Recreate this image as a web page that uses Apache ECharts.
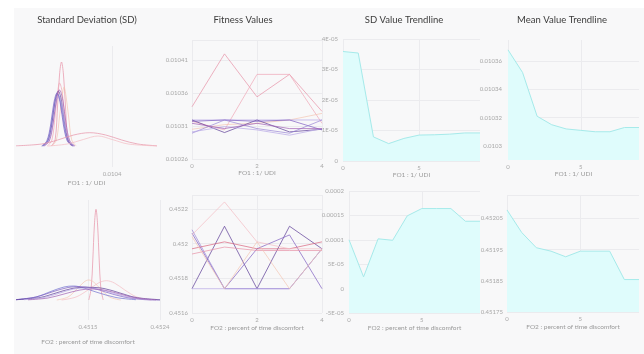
<!DOCTYPE html>
<html>
<head>
<meta charset="utf-8">
<script src="https://cdn.jsdelivr.net/npm/echarts@6/dist/echarts.min.js"></script>
<style>
html,body{margin:0;padding:0;background:#fff;}
#chart{width:644px;height:354px;}
</style>
</head>
<body>
<div id="chart"></div>
<script>
// ---------- panel titles and axis names ----------
const panelTitles = ['Standard Deviation (SD)', 'Fitness Values', 'SD Value Trendline', 'Mean Value Trendline'];
const objectiveNames = ['FO1 : 1/ UDI', 'FO2 : percent of time discomfort'];

// ---------- x categories ----------
const runIndex = ['0', '1', '2', '3', '4'];
const genIndex = ['0', '1', '2', '3', '4', '5', '6', '7', '8', '9'];

// ---------- series colours (dark purple -> light pink) ----------
const palette = ['#5b3a96', '#7e5cc0', '#9a86d6', '#b7a6e6', '#7170cf', '#a05fb4', '#e791a6', '#efa7b7', '#f3bcc3', '#f4c6b4', '#d9647e'];

// ---------- density curves of FO1 (value, relative density) ----------
const sdTop = [
  { c: 6, d: [[0.010305,0],[0.010311,0.06],[0.010315,0.42],[0.010318,0.72],[0.010321,0.84],[0.010324,0.72],[0.010327,0.42],[0.010331,0.06],[0.010337,0]] },
  { c: 7, d: [[0.010299,0],[0.010306,0.06],[0.010311,0.30],[0.010315,0.54],[0.010318,0.63],[0.010322,0.54],[0.010326,0.30],[0.010331,0.06],[0.010338,0]] },
  { c: 9, d: [[0.010306,0],[0.010313,0.06],[0.010318,0.30],[0.010322,0.50],[0.010325,0.59],[0.010328,0.50],[0.010332,0.30],[0.010337,0.06],[0.010344,0]] },
  { c: 0, d: [[0.010292,0],[0.010300,0.05],[0.010306,0.22],[0.010311,0.45],[0.010316,0.55],[0.010321,0.45],[0.010326,0.22],[0.010332,0.05],[0.010340,0]] },
  { c: 1, d: [[0.010290,0],[0.010298,0.05],[0.010304,0.21],[0.010309,0.43],[0.010314,0.53],[0.010319,0.43],[0.010324,0.21],[0.010330,0.05],[0.010338,0]] },
  { c: 3, d: [[0.010293,0],[0.010301,0.05],[0.010307,0.20],[0.010312,0.41],[0.010317,0.50],[0.010322,0.41],[0.010327,0.20],[0.010333,0.05],[0.010341,0]] },
  { c: 4, d: [[0.010291,0],[0.010299,0.05],[0.010305,0.21],[0.010310,0.42],[0.010315,0.52],[0.010320,0.42],[0.010325,0.21],[0.010331,0.05],[0.010339,0]] },
  { c: 5, d: [[0.010294,0],[0.010302,0.05],[0.010308,0.23],[0.010313,0.46],[0.010318,0.56],[0.010323,0.46],[0.010328,0.23],[0.010334,0.05],[0.010342,0]] },
  { c: 6, d: [[0.010250,0.002],[0.010290,0.02],[0.010315,0.06],[0.010340,0.11],[0.010365,0.133],[0.010390,0.11],[0.010415,0.06],[0.010440,0.02],[0.010470,0.002]] },
  { c: 8, d: [[0.010300,0],[0.010330,0.02],[0.010355,0.065],[0.010378,0.10],[0.010400,0.065],[0.010425,0.02],[0.010470,0.001]] }
];

// ---------- density curves of FO2 (value, relative density) ----------
const sdBottom = [
  { c: 6, d: [[0.45151,0],[0.45154,0.12],[0.45156,0.40],[0.45158,0.75],[0.45160,0.907],[0.45162,0.75],[0.45164,0.40],[0.45166,0.12],[0.45169,0]] },
  { c: 9, d: [[0.45111,0],[0.45125,0.03],[0.45135,0.10],[0.45145,0.18],[0.45151,0.20],[0.45157,0.18],[0.45167,0.10],[0.45177,0.03],[0.45191,0]] },
  { c: 8, d: [[0.45117,0],[0.45135,0.03],[0.45150,0.10],[0.45163,0.17],[0.45173,0.193],[0.45183,0.17],[0.45196,0.10],[0.45211,0.03],[0.45229,0]] },
  { c: 4, d: [[0.45060,0.003],[0.45085,0.03],[0.45105,0.09],[0.45120,0.13],[0.45132,0.14],[0.45145,0.12],[0.45160,0.08],[0.45185,0.025],[0.45210,0.003]] },
  { c: 1, d: [[0.45060,0.004],[0.45085,0.03],[0.45105,0.08],[0.45125,0.125],[0.45140,0.133],[0.45155,0.12],[0.45172,0.08],[0.45195,0.03],[0.45220,0.004],[0.45240,0]] },
  { c: 0, d: [[0.45060,0.003],[0.45090,0.025],[0.45110,0.07],[0.45130,0.115],[0.45150,0.127],[0.45170,0.115],[0.45190,0.07],[0.45210,0.025],[0.45240,0.003]] },
  { c: 3, d: [[0.45070,0.003],[0.45095,0.025],[0.45115,0.07],[0.45132,0.11],[0.45148,0.12],[0.45165,0.105],[0.45185,0.06],[0.45205,0.02],[0.45230,0.002]] },
  { c: 5, d: [[0.45075,0.002],[0.45100,0.02],[0.45120,0.06],[0.45140,0.10],[0.45155,0.11],[0.45170,0.10],[0.45190,0.06],[0.45210,0.02],[0.45235,0.002]] }
];

// ---------- fitness values per run ----------
const fitTop = [
  { c: 6, d: [0.010339, 0.010419, 0.010354, 0.010388, 0.010332] },
  { c: 7, d: [0.010317, 0.010304, 0.010388, 0.010388, 0.010314] },
  { c: 9, d: [0.010305, 0.010312, 0.010314, 0.010319, 0.010329] },
  { c: 3, d: [0.010319, 0.010319, 0.010319, 0.010319, 0.010319] },
  { c: 0, d: [0.010319, 0.010300, 0.010319, 0.010301, 0.010305] },
  { c: 1, d: [0.010317, 0.010319, 0.010317, 0.010319, 0.010304] },
  { c: 2, d: [0.010299, 0.010319, 0.010306, 0.010299, 0.010319] },
  { c: 3, d: [0.010301, 0.010309, 0.010304, 0.010296, 0.010306] },
  { c: 5, d: [0.010314, 0.010306, 0.010314, 0.010306, 0.010306] }
];
const fitBottom = [
  { c: 0, d: [0.45174, 0.45210, 0.45174, 0.45210, 0.45197] },
  { c: 1, d: [0.45206, 0.45174, 0.45197, 0.45205, 0.45174] },
  { c: 3, d: [0.45174, 0.45174, 0.45174, 0.45174, 0.45197] },
  { c: 2, d: [0.45208, 0.45174, 0.45174, 0.45174, 0.45197] },
  { c: 10, d: [0.45197, 0.45201, 0.45197, 0.45197, 0.45201] },
  { c: 6, d: [0.45194, 0.45198, 0.45196, 0.45196, 0.45196] },
  { c: 8, d: [0.45205, 0.45224, 0.45201, 0.45197, 0.45197] },
  { c: 9, d: [0.45204, 0.45174, 0.45201, 0.45174, 0.45197] }
];

// ---------- trendlines per generation ----------
const sdTrendTop = [3.59e-5, 3.54e-5, 0.79e-5, 0.57e-5, 0.74e-5, 0.85e-5, 0.86e-5, 0.88e-5, 0.92e-5, 0.92e-5];
const sdTrendBottom = [1.0e-4, 2.4e-5, 1.02e-4, 0.99e-4, 1.49e-4, 1.64e-4, 1.64e-4, 1.64e-4, 1.38e-4, 1.38e-4];
const meanTrendTop = [0.010368, 0.010352, 0.010321, 0.010315, 0.010312, 0.010311, 0.010310, 0.010310, 0.010313, 0.010313];
const meanTrendBottom = [0.452077, 0.452005, 0.451956, 0.451945, 0.451927, 0.451945, 0.451945, 0.451945, 0.451854, 0.451854];

// ---------- tick values ----------
const meanTopTicks = [0.0103, 0.01032, 0.01034, 0.01036];

// ---------- styling helpers ----------
const FONT = 'Lato, "Open Sans", sans-serif';
const labelStyle = { fontSize: 6, color: '#a8a8a8', fontFamily: FONT };
const nameStyle = { fontSize: 6.5, color: '#9a9a9a', fontFamily: FONT };
const gridLine = { show: true, lineStyle: { color: '#ebebee', width: 1 } };

function sciLabel(v) {
  if (Math.abs(v) < 1e-12) return '0';
  const a = Math.abs(v);
  if (a < 9.99e-5) {
    const e = Math.floor(Math.log10(a) + 1e-9);
    const m = Math.round(v / Math.pow(10, e));
    return m + 'E-' + String(-e).padStart(2, '0');
  }
  return String(+v.toPrecision(6));
}

function catX(gridIndex, data, labelEvery, name, nameGap) {
  return {
    type: 'category', gridIndex, data, boundaryGap: false,
    axisLine: { show: false }, axisTick: { show: false },
    axisLabel: Object.assign({ interval: labelEvery, margin: 4 }, labelStyle),
    splitLine: { show: true, interval: labelEvery, lineStyle: { color: '#ebebee' } },
    name, nameLocation: 'middle', nameGap,
    nameTextStyle: nameStyle
  };
}

function valY(gridIndex, min, max, interval, formatter, extra) {
  const ax = {
    type: 'value', gridIndex, min, max, interval,
    axisLine: { show: false }, axisTick: { show: false },
    axisLabel: Object.assign({ margin: 4, showMaxLabel: false, formatter }, labelStyle),
    splitLine: gridLine
  };
  return Object.assign(ax, extra || {});
}

const grids = [
  { left: 16,  top: 46,  width: 141, height: 121 },
  { left: 192, top: 40,  width: 130, height: 119 },
  { left: 343, top: 39,  width: 137, height: 122 },
  { left: 508, top: 40,  width: 131, height: 120 },
  { left: 16,  top: 200, width: 144, height: 120 },
  { left: 192, top: 195, width: 130, height: 118 },
  { left: 349, top: 191, width: 131, height: 122 },
  { left: 507, top: 195, width: 132, height: 117 }
];

const xAxes = [
  {
    type: 'value', gridIndex: 0, min: 0.01025, max: 0.01047, interval: 0.00015,
    axisLine: { show: false }, axisTick: { show: false },
    axisLabel: Object.assign({ margin: 4, showMinLabel: false, showMaxLabel: false }, labelStyle),
    splitLine: { show: true, lineStyle: { color: ['transparent', '#ebebee', 'transparent'] } },
    name: objectiveNames[0], nameLocation: 'middle', nameGap: 12,
    nameTextStyle: nameStyle
  },
  catX(1, runIndex, 1, objectiveNames[0], 10),
  catX(2, genIndex, 4, objectiveNames[0], 10),
  catX(3, genIndex, 4, objectiveNames[0], 10),
  {
    type: 'value', gridIndex: 4, min: 0.4506, max: 0.4524, interval: 0.0009,
    axisLine: { show: false }, axisTick: { show: false },
    axisLabel: Object.assign({ margin: 4, showMinLabel: false, showMaxLabel: true }, labelStyle),
    splitLine: { show: true, lineStyle: { color: ['transparent', '#ebebee', '#ebebee'] } },
    name: objectiveNames[1], nameLocation: 'middle', nameGap: 18,
    nameTextStyle: nameStyle
  },
  catX(5, runIndex, 1, objectiveNames[1], 11),
  catX(6, genIndex, 4, objectiveNames[1], 11),
  catX(7, genIndex, 4, objectiveNames[1], 11)
];

const hiddenY = (g, min, max) => ({ type: 'value', gridIndex: g, min, max, show: false, splitLine: { show: false } });

const yAxes = [
  hiddenY(0, -0.21, 1.0),
  valY(1, 0.01026, 0.01044, 0.00005),
  valY(2, 0, 4e-5, 1e-5, sciLabel, { axisLabel: Object.assign({ margin: 5, showMaxLabel: true, formatter: sciLabel }, labelStyle) }),
  {
    type: 'value', gridIndex: 3, min: 0.01029, max: 0.010375,
    axisLine: { show: false },
    axisTick: { show: false, customValues: meanTopTicks },
    axisLabel: Object.assign({ margin: 6, customValues: meanTopTicks }, labelStyle),
    splitLine: gridLine
  },
  hiddenY(4, -0.2, 1.0),
  valY(5, 0.4516, 0.45228, 0.0002),
  valY(6, -5e-5, 2e-4, 5e-5, sciLabel, { axisLabel: Object.assign({ margin: 5, showMaxLabel: true, formatter: sciLabel }, labelStyle) }),
  valY(7, 0.45175, 0.452125, 0.0001)
];

const series = [];
function addCurves(list, axisIdx, smooth) {
  list.forEach(s => series.push({
    type: 'line', xAxisIndex: axisIdx, yAxisIndex: axisIdx, data: s.d,
    smooth, symbol: 'none', silent: true,
    lineStyle: { width: 1, color: palette[s.c], opacity: 0.7 }
  }));
}
addCurves(sdTop, 0, 0.35);
addCurves(fitTop, 1, false);
addCurves(sdBottom, 4, 0.35);
addCurves(fitBottom, 5, false);

function addTrend(data, axisIdx) {
  series.push({
    type: 'line', xAxisIndex: axisIdx, yAxisIndex: axisIdx, data,
    symbol: 'none', silent: true,
    lineStyle: { width: 1, color: '#a6eaea' },
    areaStyle: { color: '#dffcfc', opacity: 1, origin: 'start' }
  });
}
addTrend(sdTrendTop, 2);
addTrend(meanTrendTop, 3);
addTrend(sdTrendBottom, 6);
addTrend(meanTrendBottom, 7);

const titleX = [87, 243, 404, 562];
const graphic = [
  { type: 'rect', z: -10, silent: true, shape: { x: 14, y: 8, width: 630, height: 346 }, style: { fill: '#f8f8f9' } }
].concat(panelTitles.map((t, i) => ({
  type: 'text', silent: true, x: titleX[i], y: 20,
  style: { text: t, align: 'center', verticalAlign: 'middle', fontSize: 9.5, fontFamily: FONT, fill: '#3c3c3c' }
})));

const chart = echarts.init(document.getElementById('chart'), null, { renderer: 'canvas' });
chart.setOption({
  backgroundColor: '#ffffff',
  animation: false,
  grid: grids,
  xAxis: xAxes,
  yAxis: yAxes,
  series,
  graphic
});
</script>
</body>
</html>
